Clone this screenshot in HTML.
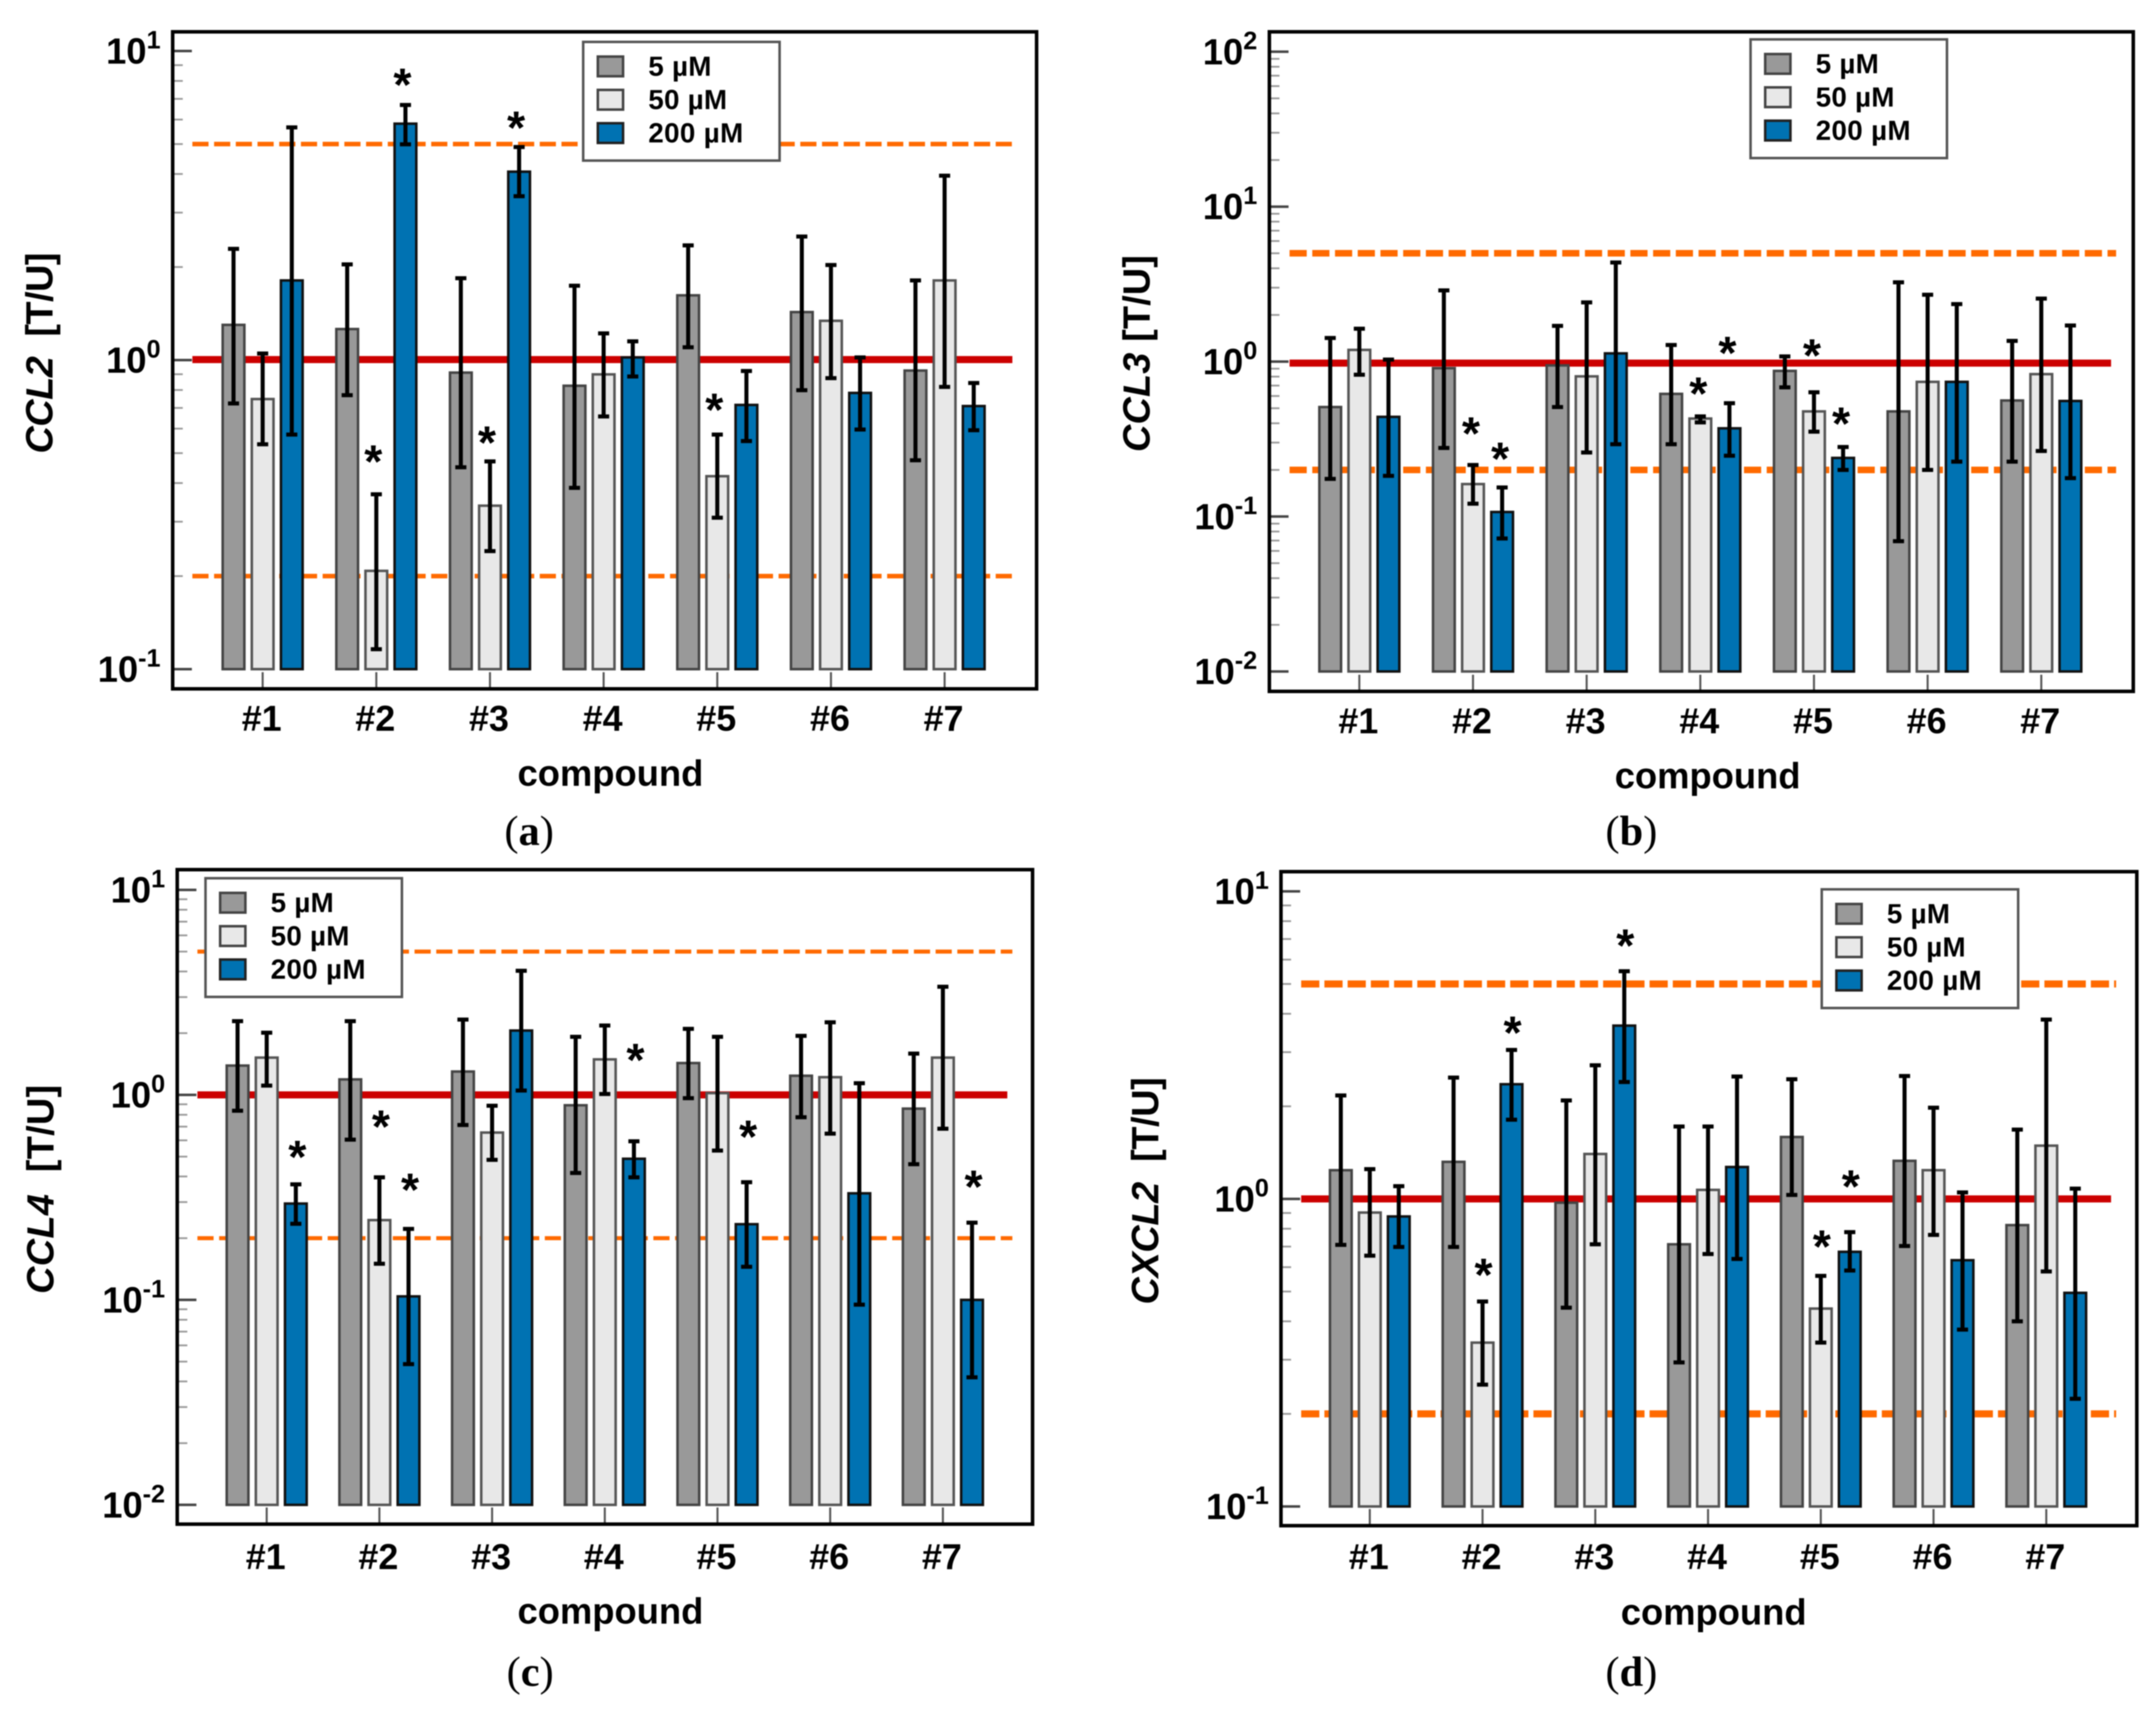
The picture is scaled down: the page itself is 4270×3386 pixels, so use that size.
<!DOCTYPE html>
<html lang="en">
<head>
<meta charset="utf-8">
<title>Chemokine expression charts</title>
<style>
html,body{margin:0;padding:0;background:#fff}
svg{display:block;filter:blur(1px)}
text{font-family:"Liberation Sans",sans-serif;font-weight:bold;fill:#000}
.caption{font-family:"Liberation Serif",serif;font-weight:normal;font-size:84px}
</style>
</head>
<body>
<svg id="figure" xmlns="http://www.w3.org/2000/svg" width="4270" height="3386" viewBox="0 0 4270 3386"></svg>
<script>
// Shared categories and labels
const categories = ['#1','#2','#3','#4','#5','#6','#7'];
const seriesLabels = ['5 µM','50 µM','200 µM'];
const refValues = [5, 1, 0.2];

// Panel a: CCL2
const ccl2Mean5 = [1.30,1.26,0.911,0.826,1.62,1.43,0.925];
const ccl2Hi5 = [2.29,2.04,1.84,1.74,2.35,2.51,1.81];
const ccl2Lo5 = [0.724,0.770,0.450,0.386,1.10,0.799,0.474];
const ccl2Mean50 = [0.748,0.208,0.338,0.899,0.421,1.34,1.81];
const ccl2Hi50 = [1.05,0.368,0.470,1.22,0.574,2.03,3.95];
const ccl2Lo50 = [0.534,0.116,0.241,0.657,0.309,0.874,0.819];
const ccl2Mean200 = [1.81,5.82,4.07,1.02,0.716,0.783,0.710];
const ccl2Hi200 = [5.66,6.69,4.89,1.15,0.922,1.02,0.843];
const ccl2Lo200 = [0.574,4.99,3.39,0.885,0.547,0.596,0.593];
const ccl2StarGroups = [1,2,1,2,4];
const ccl2StarSeries = [2,2,1,1,1];
const ccl2StarHeights = [8.14,5.92,0.492,0.567,0.724];
const ccl2Decades = [-1,0,1];

// Panel b: CCL3
const ccl3Mean5 = [0.509,0.907,0.945,0.619,0.871,0.477,0.561];
const ccl3Hi5 = [1.42,2.88,1.70,1.28,1.08,3.25,1.36];
const ccl3Lo5 = [0.175,0.277,0.509,0.293,0.682,0.0693,0.226];
const ccl3Mean50 = [1.19,0.162,0.803,0.429,0.477,0.740,0.830];
const ccl3Hi50 = [1.63,0.215,2.41,0.443,0.634,2.70,2.55];
const ccl3Lo50 = [0.823,0.121,0.259,0.405,0.353,0.200,0.265];
const ccl3Mean200 = [0.440,0.107,1.13,0.371,0.239,0.740,0.557];
const ccl3Hi200 = [1.03,0.154,4.36,0.539,0.281,2.35,1.71];
const ccl3Lo200 = [0.183,0.0722,0.293,0.247,0.200,0.226,0.177];
const ccl3StarGroups = [1,1,3,3,4,4];
const ccl3StarSeries = [1,2,1,2,1,2];
const ccl3StarHeights = [0.377,0.259,0.682,1.25,1.20,0.436];
const ccl3Decades = [-2,-1,0,1,2];

// Panel c: CCL4
const ccl4Mean5 = [1.39,1.19,1.30,0.890,1.43,1.24,0.857];
const ccl4Hi5 = [2.29,2.29,2.33,1.92,2.10,1.94,1.59];
const ccl4Lo5 = [0.837,0.605,0.713,0.416,0.964,0.778,0.459];
const ccl4Mean50 = [1.52,0.245,0.655,1.49,1.02,1.22,1.52];
const ccl4Hi50 = [2.01,0.396,0.885,2.18,1.92,2.26,3.37];
const ccl4Lo50 = [1.11,0.150,0.482,1.01,0.535,0.647,0.684];
const ccl4Mean200 = [0.295,0.104,2.06,0.488,0.234,0.331,0.100];
const ccl4Hi200 = [0.366,0.222,4.03,0.594,0.375,1.14,0.238];
const ccl4Lo200 = [0.235,0.0486,1.05,0.396,0.145,0.0948,0.0419];
const ccl4StarGroups = [0,1,1,3,4,6];
const ccl4StarSeries = [2,1,2,2,2,2];
const ccl4StarHeights = [0.535,0.750,0.370,1.59,0.671,0.382];
const ccl4Decades = [-2,-1,0,1];

// Panel d: CXCL2
const cxcl2Mean5 = [1.24,1.32,0.972,0.712,1.59,1.33,0.822];
const cxcl2Hi5 = [2.17,2.48,2.09,1.72,2.45,2.51,1.68];
const cxcl2Lo5 = [0.709,0.698,0.443,0.294,1.03,0.703,0.400];
const cxcl2Mean50 = [0.903,0.341,1.40,1.07,0.440,1.24,1.49];
const cxcl2Hi50 = [1.25,0.464,2.72,1.72,0.562,1.98,3.83];
const cxcl2Lo50 = [0.654,0.249,0.712,0.662,0.341,0.764,0.581];
const cxcl2Mean200 = [0.877,2.36,3.66,1.27,0.673,0.632,0.495];
const cxcl2Hi200 = [1.10,3.05,5.50,2.50,0.780,1.05,1.08];
const cxcl2Lo200 = [0.698,1.81,2.40,0.638,0.585,0.376,0.224];
const cxcl2StarGroups = [1,1,2,4,4];
const cxcl2StarSeries = [1,2,2,1,2];
const cxcl2StarHeights = [0.593,3.64,6.98,0.733,1.15];
const cxcl2Decades = [-1,0,1];

const SVGNS = 'http://www.w3.org/2000/svg';
const root = document.getElementById('figure');
const fills = ['#999999','#e8e8e8','#0072b2'];
const strokes = ['#444444','#555555','#111111'];
const seriesSlugs = ['5um','50um','200um'];

function mk(parent, tag, attrs, txt) {
  const el = document.createElementNS(SVGNS, tag);
  for (const k in attrs) el.setAttribute(k, attrs[k]);
  if (txt !== undefined) el.textContent = txt;
  parent.appendChild(el);
  return el;
}

function drawPanel(p) {
  const yScale = v => p.y1 - Math.log10(v) * p.decade;
  const barX = (g, s) => p.bar0 + g * p.step + s * p.gap;
  const barCx = (g, s) => barX(g, s) + p.barW / 2;
  const bottomVal = Math.pow(10, p.decades[0]);
  const yBase = yScale(bottomVal);

  const g = mk(root, 'g', {});
  
  

  // reference lines
  refValues.forEach((v) => {
    const isUnity = v === 1;
    const line = mk(g, 'line', {
      x1: p.refX0, x2: isUnity ? p.refX1 - 10 : p.refX1,
      y1: yScale(v) + (isUnity ? p.redShift : 0), y2: yScale(v) + (isUnity ? p.redShift : 0),
      stroke: isUnity ? '#cc0000' : '#ff6a00',
      'stroke-width': isUnity ? 14 : p.dashW
    });
    if (!isUnity) line.setAttribute('stroke-dasharray', p.dash);
    
    
  });

  // bars
  categories.forEach((cat, gi) => {
    p.means.forEach((vals, si) => {
      const top = yScale(vals[gi]);
      const bar = mk(g, 'rect', {
        x: barX(gi, si), y: top, width: p.barW, height: yBase - top,
        fill: fills[si], stroke: strokes[si], 'stroke-width': 5
      });
      
      
    });
  });

  // error bars
  categories.forEach((cat, gi) => {
    p.means.forEach((vals, si) => {
      const cx = barCx(gi, si);
      const yHi = yScale(p.his[si][gi]);
      const yLo = yScale(p.los[si][gi]);
      const eb = mk(g, 'path', {
        d: 'M' + cx + ' ' + yHi + 'V' + yLo + 'M' + (cx - 11) + ' ' + yHi + 'H' + (cx + 11) + 'M' + (cx - 11) + ' ' + yLo + 'H' + (cx + 11),
        stroke: '#000', 'stroke-width': 8, fill: 'none'
      });
      
      
    });
  });

  // significance stars
  p.starGroups.forEach((sg, i) => {
    const star = mk(g, 'text', {
      x: barCx(sg, p.starSeries[i]) + p.starDx, y: yScale(p.starHeights[i]) + 44,
      'text-anchor': 'middle', 'font-size': 92
    }, '*');
    
    
  });

  // y ticks
  p.decades.forEach((d, i) => {
    const y = yScale(Math.pow(10, d));
    const tick = mk(g, 'line', { x1: p.L, x2: p.L + 38, y1: y, y2: y, stroke: '#444', 'stroke-width': 5 });
    
    
    const lab = mk(g, 'text', { x: p.L - 24, y: y + 25, 'text-anchor': 'end', 'font-size': 72 }, '10');
    
    
    const sup = mk(lab, 'tspan', { dy: -30, 'font-size': 50 }, String(d));
    
    
    if (i < p.decades.length - 1) {
      for (let m = 2; m <= 9; m++) {
        const my = yScale(m * Math.pow(10, d));
        const minor = mk(g, 'line', { x1: p.L, x2: p.L + 20, y1: my, y2: my, stroke: '#999', 'stroke-width': 3.5 });
        
        
      }
    }
  });

  // x ticks and labels
  categories.forEach((cat, gi) => {
    const cx = barCx(gi, 1);
    const tick = mk(g, 'line', { x1: cx, x2: cx, y1: p.B, y2: p.B - 33, stroke: '#555', 'stroke-width': 4 });
    
    
    const lab = mk(g, 'text', { x: cx - 2, y: p.tickY, 'text-anchor': 'middle', 'font-size': 71 }, cat);
    
    
  });

  // frame
  const frame = mk(g, 'rect', { x: p.L, y: p.T, width: p.R - p.L, height: p.B - p.T, fill: 'none', stroke: '#000', 'stroke-width': 7 });
  
  

  // x title
  const xt = mk(g, 'text', { x: p.xTitleX, y: p.xTitleY, 'text-anchor': 'middle', 'font-size': 72 }, 'compound');
  
  

  // y title
  const yt = mk(g, 'text', {
    transform: 'translate(' + p.yTitleX + ' ' + p.yTitleY + ') rotate(-90)',
    'text-anchor': 'middle', 'font-size': 75, textLength: p.yTitleLen, lengthAdjust: 'spacing'
  });
  
  
  const gene = mk(yt, 'tspan', { 'font-style': 'italic' }, p.gene);
  
  
  const unit = mk(yt, 'tspan', {}, p.unitText);
  
  

  // legend
  const lg = mk(g, 'g', {});
  
  
  const box = mk(lg, 'rect', { x: p.legX, y: p.legY, width: 389, height: 235, fill: '#fff', stroke: '#555', 'stroke-width': 5 });
  
  
  seriesLabels.forEach((label, si) => {
    const y = p.legY + 30 + si * 66;
    const sw = mk(lg, 'rect', { x: p.legX + 29, y: y - 1, width: 50, height: 39, fill: fills[si], stroke: si === 2 ? '#222' : '#444', 'stroke-width': 5 });
    
    
    const t = mk(lg, 'text', { x: p.legX + 129, y: y + 37, 'font-size': 55, textLength: label.length === 4 ? 125 : label.length === 5 ? 156 : 188, lengthAdjust: 'spacing' }, label);
    
    
  });

  // caption
  const cap = mk(g, 'text', { x: p.capX, y: p.capY, class: 'caption', 'text-anchor': 'middle' }, '(');
  
  
  const capLetter = mk(cap, 'tspan', { 'font-weight': 'bold' }, p.slug);
  
  
  const capEnd = mk(cap, 'tspan', {}, ')');
  
  
}

drawPanel({
  slug:'a', gene:'CCL2', unitText:'\u00a0\u00a0[T/U]',
  means:[ccl2Mean5,ccl2Mean50,ccl2Mean200], his:[ccl2Hi5,ccl2Hi50,ccl2Hi200], los:[ccl2Lo5,ccl2Lo50,ccl2Lo200],
  starGroups:ccl2StarGroups, starSeries:ccl2StarSeries, starHeights:ccl2StarHeights, decades:ccl2Decades, starDx:-6,
  L:342, R:2053, T:63, B:1364, y1:713, decade:612, bar0:441, step:225.1, gap:57.7, barW:43,
  refX0:381, refX1:2015, redShift:-1, dashW:9, dash:'32 11',
  tickY:1447, xTitleX:1209, xTitleY:1556, yTitleX:104, yTitleY:699, yTitleLen:398,
  legX:1155, legY:83, capX:1048, capY:1673
});
drawPanel({
  slug:'b', gene:'CCL3', unitText:'\u00a0[T/U]',
  means:[ccl3Mean5,ccl3Mean50,ccl3Mean200], his:[ccl3Hi5,ccl3Hi50,ccl3Hi200], los:[ccl3Lo5,ccl3Lo50,ccl3Lo200],
  starGroups:ccl3StarGroups, starSeries:ccl3StarSeries, starHeights:ccl3StarHeights, decades:ccl3Decades, starDx:-4,
  L:2514, R:4225, T:63, B:1369, y1:716, decade:306.8, bar0:2613, step:225.1, gap:57.7, barW:43,
  refX0:2554, refX1:4191, redShift:3, dashW:13, dash:'34 11',
  tickY:1452, xTitleX:3382, xTitleY:1561, yTitleX:2277, yTitleY:700, yTitleLen:390,
  legX:3467, legY:78, capX:3231, capY:1673
});
drawPanel({
  slug:'c', gene:'CCL4', unitText:'\u00a0\u00a0[T/U]',
  means:[ccl4Mean5,ccl4Mean50,ccl4Mean200], his:[ccl4Hi5,ccl4Hi50,ccl4Hi200], los:[ccl4Lo5,ccl4Lo50,ccl4Lo200],
  starGroups:ccl4StarGroups, starSeries:ccl4StarSeries, starHeights:ccl4StarHeights, decades:ccl4Decades, starDx:3,
  L:351, R:2045, T:1722, B:3018, y1:2168, decade:405.9, bar0:449, step:223.2, gap:57.7, barW:43,
  refX0:391, refX1:2005, redShift:0, dashW:8, dash:'32 11',
  tickY:3107, xTitleX:1209, xTitleY:3215, yTitleX:106, yTitleY:2355, yTitleLen:414,
  legX:407, legY:1739, capX:1050, capY:3338
});
drawPanel({
  slug:'d', gene:'CXCL2', unitText:'\u00a0\u00a0[T/U]',
  means:[cxcl2Mean5,cxcl2Mean50,cxcl2Mean200], his:[cxcl2Hi5,cxcl2Hi50,cxcl2Hi200], los:[cxcl2Lo5,cxcl2Lo50,cxcl2Lo200],
  starGroups:cxcl2StarGroups, starSeries:cxcl2StarSeries, starHeights:cxcl2StarHeights, decades:cxcl2Decades, starDx:2,
  L:2537, R:4232, T:1726, B:3021, y1:2374, decade:609, bar0:2634, step:223.3, gap:57.4, barW:43,
  refX0:2577, refX1:4191, redShift:0, dashW:14, dash:'36 10',
  tickY:3107, xTitleX:3394, xTitleY:3217, yTitleX:2294, yTitleY:2358, yTitleLen:450,
  legX:3608, legY:1761, capX:3231, capY:3338
});
</script>
</body>
</html>
